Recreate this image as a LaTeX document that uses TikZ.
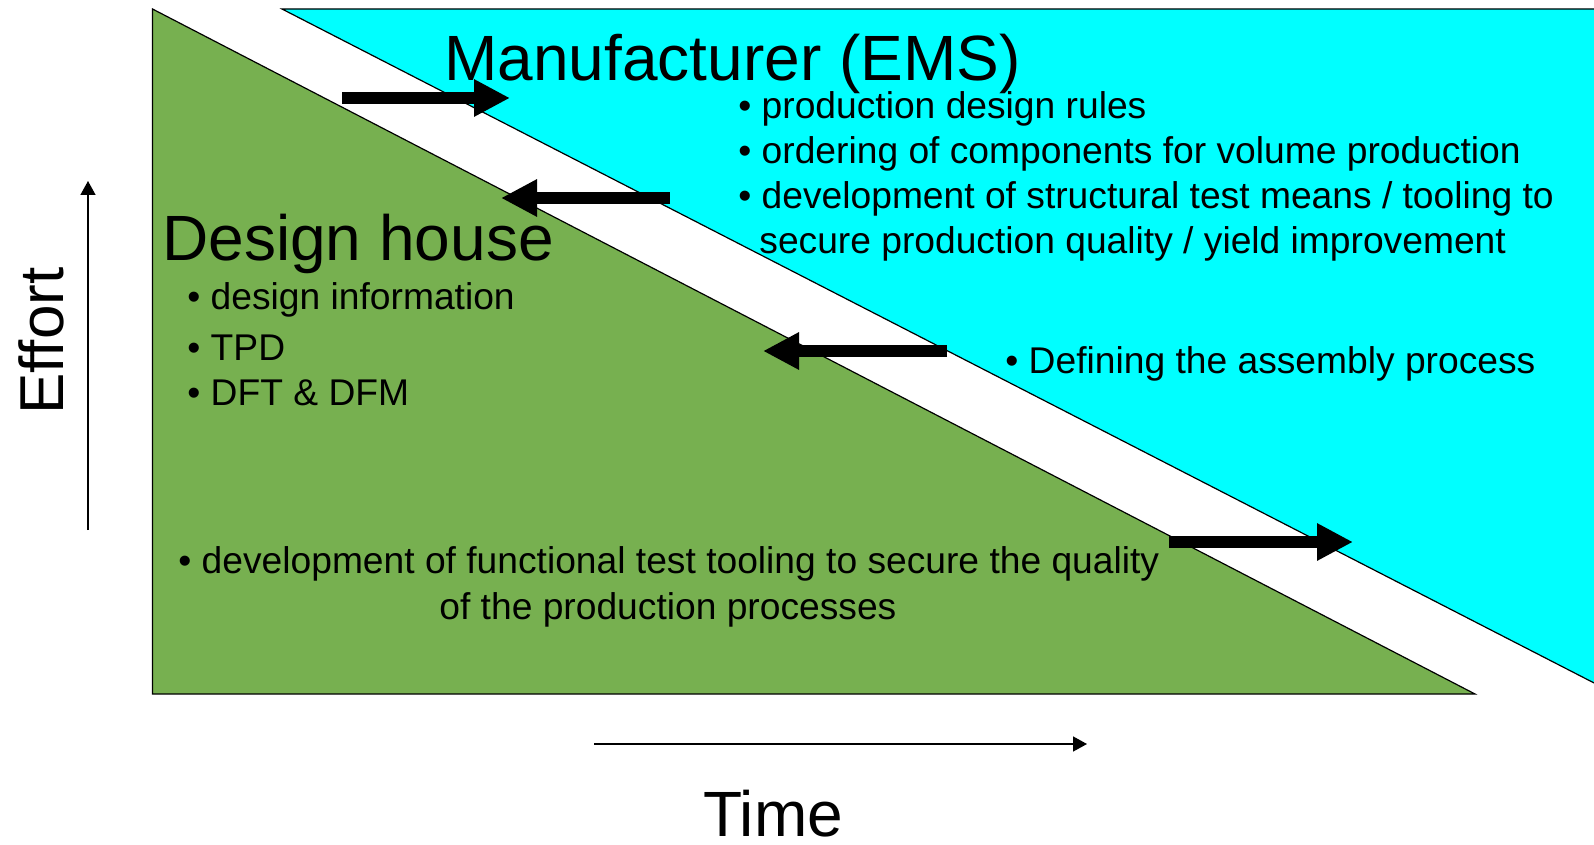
\documentclass[tikz,border=0pt]{standalone}
\usepackage{fontspec}
\setmainfont{Liberation Sans}
\usetikzlibrary{arrows.meta}
\definecolor{dhgreen}{RGB}{119,176,80}
\definecolor{emscyan}{RGB}{0,255,255}
\tikzset{
  smalltxt/.style={font=\fontsize{18.6}{22}\selectfont, anchor=base west, inner sep=0pt},
  bigtxt/.style={font=\fontsize{32}{38}\selectfont, inner sep=0pt},
  blockarrow/.style={line width=6pt, -{Triangle[length=18pt,width=17.5pt]}},
  axisarrow/.style={line width=0.75pt, -{Triangle[length=7pt,width=7.5pt]}},
  outline/.style={draw=black, line width=0.6pt, line join=miter}
}
\begin{document}
\begin{tikzpicture}[x=0.5pt,y=-0.5pt]
\useasboundingbox (0,0) rectangle (1594,845);
% cyan (manufacturer) triangle
\fill[emscyan] (282,9) -- (1620,9) -- (1620,696.3) -- cycle;
\draw[outline] (1620,9) -- (282,9) -- (1620,696.3);
% green (design house) triangle
\filldraw[outline, fill=dhgreen] (152.5,9) -- (152.5,694) -- (1475,694) -- cycle;

% axes
\coordinate (effbot) at (88,530);
\coordinate (efftop) at (88,181);
\draw[axisarrow] (effbot) -- (efftop);
\coordinate (timel) at (594,744);
\coordinate (timer) at (1087,744);
\draw[axisarrow] (timel) -- (timer);
\node[bigtxt, font=\fontsize{31}{36}\selectfont, rotate=90, anchor=base west] (effort) at (63,415) {Effort};
\node[bigtxt, anchor=base] (time) at (773,836) {Time};

% titles
\node[bigtxt, anchor=base west] (ems) at (444,81) {Manufacturer (EMS)};
\node[bigtxt, anchor=base west] (dh) at (162,261) {Design house};

% manufacturer bullets
\node[smalltxt] (m1) at (738,119) {• production design rules};
\node[smalltxt] (m2) at (738,164) {• ordering of components for volume production};
\node[smalltxt] (m3) at (738,209) {• development of structural test means / tooling to};
\node[smalltxt] (m4) at (759,254) {secure production quality / yield improvement};
\node[smalltxt] (m5) at (1005,373) {• Defining the assembly process};

% design house bullets
\node[smalltxt] (d1) at (187,309) {• design information};
\node[smalltxt] (d2) at (187,360) {• TPD};
\node[smalltxt] (d3) at (187,405) {• DFT \& DFM};
\node[smalltxt] (f1) at (178,573) {• development of functional test tooling to secure the quality};
\node[smalltxt] (f2) at (439,619) {of the production processes};

% block arrows
\coordinate (a1s) at (342,98);   \coordinate (a1e) at (510,98);
\coordinate (a2s) at (670,198);  \coordinate (a2e) at (501,198);
\coordinate (a3s) at (947,351);  \coordinate (a3e) at (763,351);
\coordinate (a4s) at (1169,542); \coordinate (a4e) at (1353,542);
\draw[blockarrow] (a1s) -- (a1e);
\draw[blockarrow] (a2s) -- (a2e);
\draw[blockarrow] (a3s) -- (a3e);
\draw[blockarrow] (a4s) -- (a4e);
\end{tikzpicture}
\end{document}
